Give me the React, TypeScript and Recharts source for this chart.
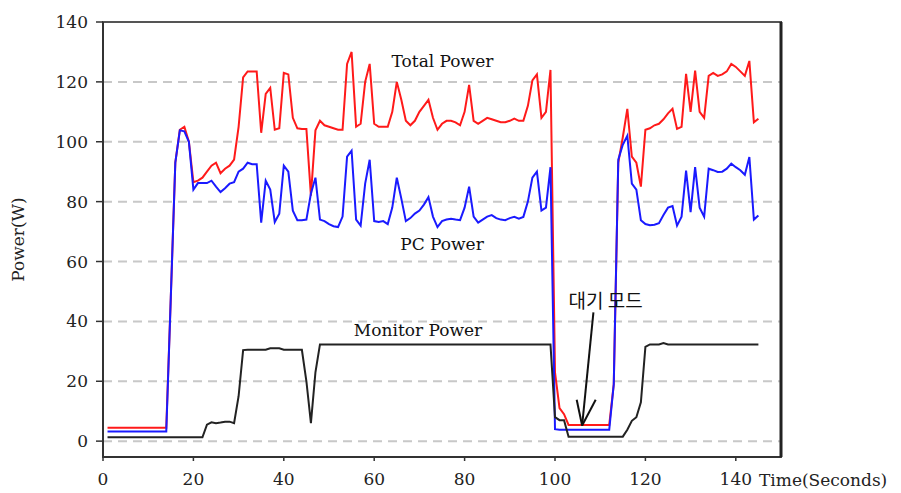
import React from "react";
import {
	LineChart,
	Line,
	XAxis,
	YAxis,
	CartesianGrid,
	ReferenceDot,
	ReferenceLine,
	ReferenceArea,
} from "recharts";

// seconds 1..145, one sample per second
const seconds = Array.from({ length: 145 }, (_, i) => i + 1);

const totalPower = [
	4.5, 4.5, 4.5, 4.5, 4.5, 4.5, 4.5, 4.5, 4.5, 4.5,
	4.5, 4.5, 4.5, 4.5, 48, 93, 104, 105, 100, 86.5,
	87, 88, 90, 92, 93, 89.5, 91, 92, 94, 105,
	121.5, 123.5, 123.5, 123.5, 103, 116, 118, 104, 104.5, 123,
	122.5, 108, 104.5, 104.3, 104.3, 82, 103.8, 107, 105.5, 105,
	104.5, 104, 104, 126, 130, 105, 106, 120, 126, 106,
	105, 105, 105, 110, 120, 114, 107, 105.5, 107, 110,
	112, 114, 108, 104, 106, 107, 107, 106.5, 105.5, 110,
	119, 107, 106, 107, 108, 107.5, 107, 106.5, 106.5, 107,
	107.7, 107, 107, 112, 120.5, 122.5, 108, 110, 124, 23,
	11, 9, 5.4, 5.4, 5.4, 5.4, 5.4, 5.4, 5.4, 5.4,
	5.4, 5.4, 19, 93, 101.5, 111, 95, 93, 85, 104,
	104.5, 105.5, 106, 107.5, 109.5, 111, 104.3, 105, 122.7, 110,
	123.8, 110, 108, 122, 123, 122, 122.5, 123.5, 126, 125,
	123.5, 122, 127, 106.5, 107.7,
];

const pcPower = [
	3.2, 3.2, 3.2, 3.2, 3.2, 3.2, 3.2, 3.2, 3.2, 3.2,
	3.2, 3.2, 3.2, 3.2, 48, 93, 103.8, 103.5, 100, 84,
	86.2, 86.2, 86.2, 87, 85, 83.2, 84.5, 86, 86.5, 90,
	91, 93, 92.5, 92.5, 73, 87, 84, 73.2, 76, 92,
	90, 77, 73.8, 73.8, 74, 82.7, 88, 74, 73.5, 72.5,
	71.8, 71.5, 75, 95, 97, 74, 72, 86, 94, 73.5,
	73.2, 73.5, 72.5, 78, 88, 81, 73.5, 74.5, 76, 77,
	79, 81.5, 75, 71.5, 73.5, 74, 74.3, 74, 73.8, 78,
	85, 75, 73, 74, 75, 75.5, 74.5, 74, 73.8, 74.5,
	74.9, 74.3, 74.9, 80, 88, 90, 77, 78, 91.5, 4,
	3.8, 3.8, 3.8, 3.8, 3.8, 3.8, 3.8, 3.8, 3.8, 3.8,
	3.8, 3.8, 19, 94, 99, 102, 86, 84, 73.8, 72.5,
	72.1, 72.3, 72.8, 75.5, 78, 78.5, 72, 75, 90.4, 76.5,
	91.5, 78, 75, 91, 90.5, 89.9, 90, 91, 92.7, 91.5,
	90.5, 89, 94.9, 74, 75.4,
];

const monitorPower = [
	1.3, 1.3, 1.3, 1.3, 1.3, 1.3, 1.3, 1.3, 1.3, 1.3,
	1.3, 1.3, 1.3, 1.3, 1.3, 1.3, 1.3, 1.3, 1.3, 1.3,
	1.3, 1.3, 5.5, 6.3, 6, 6.2, 6.5, 6.5, 6, 15,
	30.4, 30.5, 30.5, 30.5, 30.5, 30.5, 31, 31, 31, 30.5,
	30.5, 30.5, 30.5, 30.5, 20, 6, 23, 32.3, 32.3, 32.3,
	32.3, 32.3, 32.3, 32.3, 32.3, 32.3, 32.3, 32.3, 32.3, 32.3,
	32.3, 32.3, 32.3, 32.3, 32.3, 32.3, 32.3, 32.3, 32.3, 32.3,
	32.3, 32.3, 32.3, 32.3, 32.3, 32.3, 32.3, 32.3, 32.3, 32.3,
	32.3, 32.3, 32.3, 32.3, 32.3, 32.3, 32.3, 32.3, 32.3, 32.3,
	32.3, 32.3, 32.3, 32.3, 32.3, 32.3, 32.3, 32.3, 32.3, 8,
	7, 7, 1.5, 1.5, 1.5, 1.5, 1.5, 1.5, 1.5, 1.5,
	1.5, 1.5, 1.5, 1.5, 1.5, 3.8, 6.8, 8, 13, 31.5,
	32.3, 32.3, 32.3, 32.8, 32.3, 32.3, 32.3, 32.3, 32.3, 32.3,
	32.3, 32.3, 32.3, 32.3, 32.3, 32.3, 32.3, 32.3, 32.3, 32.3,
	32.3, 32.3, 32.3, 32.3, 32.3,
];

const xTicks = [0, 20, 40, 60, 80, 100, 120, 140];
const yTicks = [0, 20, 40, 60, 80, 100, 120, 140];
const xDomain = [0, 150];
const yDomain = [-5.3, 140];

const data = seconds.map((t, i) => ({
	t,
	total: totalPower[i],
	pc: pcPower[i],
	monitor: monitorPower[i],
}));

const FONT = "'DejaVu Serif', serif";
const MARGIN = { top: 22, right: 120, bottom: 0, left: 0 };

function YTitle({ viewBox }: any) {
	const cx = viewBox.x + 18;
	const cy = viewBox.y + viewBox.height / 2;
	return (
		<text
			x={cx}
			y={cy}
			transform={`rotate(-90, ${cx}, ${cy})`}
			textAnchor="middle"
			dominantBaseline="central"
			fontFamily={FONT}
			fontSize={17}
			fill="#222"
		>
			Power(W)
		</text>
	);
}

// x axis title, plus the top and right edges of the plot frame
function XTitle({ viewBox }: any) {
	const left = viewBox.x;
	const right = viewBox.x + viewBox.width;
	const top = MARGIN.top;
	const bottom = viewBox.y;
	return (
		<g>
			<path d={`M${left},${top}H${right}`} fill="none" stroke="#555" strokeWidth={2} />
			<path d={`M${right},${top}V${bottom}`} fill="none" stroke="#222" strokeWidth={3} />
			<text
				x={right - 22}
				y={bottom + 29}
				textAnchor="start"
				fontFamily={FONT}
				fontSize={17}
				fill="#222"
			>
				Time(Seconds)
			</text>
		</g>
	);
}

const noteStyle = { fontFamily: FONT, fontSize: 17, fill: "#111" };

export default function App() {
	return (
		<div style={{ position: "absolute", left: 0, top: 0, width: 901, height: 493, background: "#fff" }}>
			<LineChart width={901} height={493} data={data} margin={MARGIN}>
				<CartesianGrid
					vertical={false}
					stroke="#c8c8c8"
					strokeWidth={2}
					strokeDasharray="9 6"
				/>
				{/* plot box outline */}
				<ReferenceArea
					x1={xDomain[0]}
					x2={xDomain[1]}
					y1={yDomain[0]}
					y2={yDomain[1]}
					fill="none"
					fillOpacity={0}
					stroke="#444"
					strokeWidth={2}
					strokeOpacity={1}
					ifOverflow="visible"
				/>
				<XAxis
					dataKey="t"
					type="number"
					domain={xDomain}
					ticks={xTicks}
					height={36}
					tickSize={4}
					tickMargin={12}
					axisLine={{ stroke: "#333", strokeWidth: 2 }}
					tickLine={{ stroke: "#333", strokeWidth: 1.5 }}
					tick={{ fontFamily: FONT, fontSize: 17, fill: "#222" }}
					label={<XTitle />}
				/>
				<YAxis
					type="number"
					domain={yDomain}
					ticks={yTicks}
					width={103}
					tickSize={7}
					tickMargin={8}
					axisLine={{ stroke: "#333", strokeWidth: 2 }}
					tickLine={{ stroke: "#333", strokeWidth: 1.5 }}
					tick={{ fontFamily: FONT, fontSize: 17, fill: "#222" }}
					label={<YTitle />}
				/>
				<Line
					type="linear"
					dataKey="total"
					stroke="#ff1a1a"
					strokeWidth={2}
					dot={false}
					isAnimationActive={false}
				/>
				<Line
					type="linear"
					dataKey="pc"
					stroke="#1a1aff"
					strokeWidth={2}
					dot={false}
					isAnimationActive={false}
				/>
				<Line
					type="linear"
					dataKey="monitor"
					stroke="#222"
					strokeWidth={2}
					dot={false}
					isAnimationActive={false}
				/>
				<ReferenceDot x={75.1} y={127} r={0} fill="none" stroke="none"
					label={{ value: "Total Power", position: "center", ...noteStyle }} />
				<ReferenceDot x={75} y={65.8} r={0} fill="none" stroke="none"
					label={{ value: "PC Power", position: "center", ...noteStyle }} />
				<ReferenceDot x={69.7} y={37.1} r={0} fill="none" stroke="none"
					label={{ value: "Monitor Power", position: "center", ...noteStyle }} />
				<ReferenceDot x={111.2} y={46.8} r={0} fill="none" stroke="none"
					label={{
						value: "대기 모드",
						position: "center",
						fontFamily: "'Noto Sans CJK KR', sans-serif",
						fontSize: 19,
						fill: "#111",
					}} />
				<ReferenceLine segment={[{ x: 108.5, y: 43 }, { x: 106, y: 5.2 }]}
					stroke="#111" strokeWidth={2} />
				<ReferenceLine segment={[{ x: 104.8, y: 13.8 }, { x: 106, y: 5.2 }]}
					stroke="#111" strokeWidth={2} />
				<ReferenceLine segment={[{ x: 109, y: 13.8 }, { x: 106, y: 5.2 }]}
					stroke="#111" strokeWidth={2} />
			</LineChart>
		</div>
	);
}
